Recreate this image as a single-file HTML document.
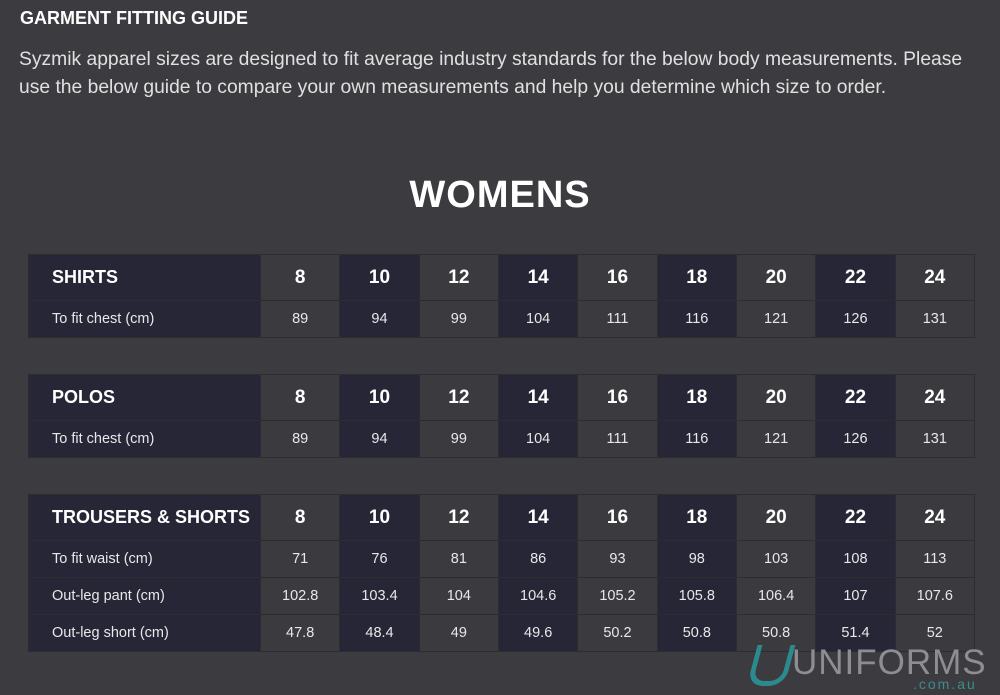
<!DOCTYPE html>
<html><head><meta charset="utf-8"><style>
body{margin:0;width:1000px;height:695px;background:#3c3c40;font-family:"Liberation Sans",sans-serif;color:#e6e6e6;position:relative;overflow:hidden}
.h{position:absolute;left:20px;top:8px;font-weight:bold;font-size:18px;color:#fff}
.p{position:absolute;left:19px;top:46px;font-size:19.3px;line-height:28px;color:#e0e0e0;width:975px}
.w{position:absolute;left:0;width:1000px;top:174px;text-align:center;font-weight:bold;font-size:38px;color:#fff;letter-spacing:1px}
table{position:absolute;left:28px;width:947px;border-collapse:collapse;table-layout:fixed}
td{border:1px solid #2c2c31;text-align:center;font-size:14.5px;color:#e8e8e8;padding:0;white-space:nowrap}
td.l{text-align:left;padding-left:23px}
col.d{background:#262637}
col.g{background:#3b3b3f}
tr.hd td{height:45px;font-weight:bold;font-size:19px;color:#fff}
tr.hd td.l{font-size:18px}
tr.r td{height:36px}
.logo{position:absolute;left:792px;top:643px;font-size:35px;color:#8d8d92;letter-spacing:1px;white-space:nowrap}
.au{position:absolute;left:913px;top:676px;font-size:14px;color:#3b8c8f;letter-spacing:2px}
.u{position:absolute;left:752px;top:645px;width:28px;height:36px;border:5px solid #2b8a8d;border-top:none;border-radius:0 0 16px 16px;transform:skewX(-15deg)}
</style></head><body>
<div class="h">GARMENT FITTING GUIDE</div>
<div class="p">Syzmik apparel sizes are designed to fit average industry standards for the below body measurements. Please use the below guide to compare your own measurements and help you determine which size to order.</div>
<div class="w">WOMENS</div>

<table style="top:254px"><colgroup><col class="d" style="width:232px"><col class="g"><col class="d"><col class="g"><col class="d"><col class="g"><col class="d"><col class="g"><col class="d"><col class="g"></colgroup>
<tr class="hd"><td class="l">SHIRTS</td><td>8</td><td>10</td><td>12</td><td>14</td><td>16</td><td>18</td><td>20</td><td>22</td><td>24</td></tr>
<tr class="r"><td class="l">To fit chest (cm)</td><td>89</td><td>94</td><td>99</td><td>104</td><td>111</td><td>116</td><td>121</td><td>126</td><td>131</td></tr>
</table>

<table style="top:374px"><colgroup><col class="d" style="width:232px"><col class="g"><col class="d"><col class="g"><col class="d"><col class="g"><col class="d"><col class="g"><col class="d"><col class="g"></colgroup>
<tr class="hd"><td class="l">POLOS</td><td>8</td><td>10</td><td>12</td><td>14</td><td>16</td><td>18</td><td>20</td><td>22</td><td>24</td></tr>
<tr class="r"><td class="l">To fit chest (cm)</td><td>89</td><td>94</td><td>99</td><td>104</td><td>111</td><td>116</td><td>121</td><td>126</td><td>131</td></tr>
</table>

<table style="top:494px"><colgroup><col class="d" style="width:232px"><col class="g"><col class="d"><col class="g"><col class="d"><col class="g"><col class="d"><col class="g"><col class="d"><col class="g"></colgroup>
<tr class="hd"><td class="l">TROUSERS &amp; SHORTS</td><td>8</td><td>10</td><td>12</td><td>14</td><td>16</td><td>18</td><td>20</td><td>22</td><td>24</td></tr>
<tr class="r"><td class="l">To fit waist (cm)</td><td>71</td><td>76</td><td>81</td><td>86</td><td>93</td><td>98</td><td>103</td><td>108</td><td>113</td></tr>
<tr class="r"><td class="l">Out-leg pant (cm)</td><td>102.8</td><td>103.4</td><td>104</td><td>104.6</td><td>105.2</td><td>105.8</td><td>106.4</td><td>107</td><td>107.6</td></tr>
<tr class="r"><td class="l">Out-leg short (cm)</td><td>47.8</td><td>48.4</td><td>49</td><td>49.6</td><td>50.2</td><td>50.8</td><td>50.8</td><td>51.4</td><td>52</td></tr>
</table>
<div class="u"></div>
<div class="logo">UNIFORMS</div>
<div class="au">.com.au</div>
</body></html>
